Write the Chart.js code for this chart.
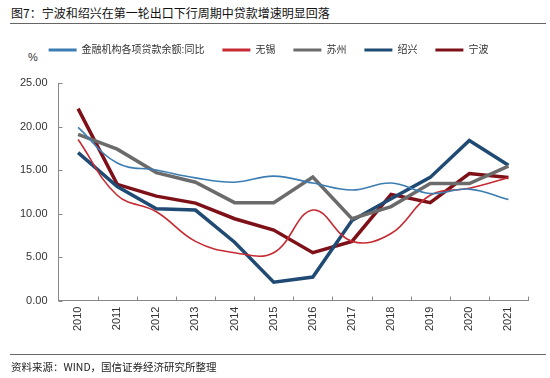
<!DOCTYPE html>
<html><head><meta charset="utf-8">
<script src="https://cdn.jsdelivr.net/npm/chart.js@4/dist/chart.umd.min.js"></script>
<style>
html,body{margin:0;padding:0;background:#fff;}
#wrap{position:relative;width:550px;height:378px;overflow:hidden;font-family:"Noto Sans CJK SC","Liberation Sans",sans-serif;}
#title{position:absolute;left:11px;top:4px;font-size:12px;color:#111;white-space:nowrap;}
.rule{position:absolute;left:10px;width:536px;height:1px;background:#666;}
#src{position:absolute;left:11px;top:359px;font-size:10.5px;color:#222;white-space:nowrap;}
#pct{position:absolute;left:28px;top:51px;font-size:11px;color:#333;font-family:"Liberation Sans",sans-serif;}
#cv{position:absolute;left:0;top:0;}
</style></head>
<body>
<div id="wrap">
<div id="title">图7：宁波和绍兴在第一轮出口下行周期中贷款增速明显回落</div>
<div class="rule" style="top:23px"></div>
<div id="pct">%</div>
<canvas id="cv" width="550" height="378"></canvas>
<div class="rule" style="top:354px"></div>
<div id="src">资料来源：WIND，国信证券经济研究所整理</div>
</div>
<script>
const years = ["2010","2011","2012","2013","2014","2015","2016","2017","2018","2019","2020","2021"];
const seriesNames = ["金融机构各项贷款余额:同比","无锡","苏州","绍兴","宁波"];
const national = [19.9,15.8,15.0,14.1,13.6,14.3,13.5,12.7,13.5,12.3,12.8,11.6];
const wuxi     = [18.5,12.1,10.2,6.8,5.5,5.5,10.4,6.8,7.7,12.1,12.9,14.1];
const suzhou   = [19.1,17.4,14.7,13.6,11.25,11.25,14.2,9.4,10.8,13.45,13.45,15.45];
const shaoxing = [17.0,13.1,10.55,10.4,6.7,2.1,2.7,9.2,11.7,14.15,18.4,15.55];
const ningbo   = [22.05,13.35,12.0,11.2,9.4,8.1,5.5,6.8,12.2,11.25,14.6,14.15];
const yTicks = [0,5,10,15,20,25];

const FONT = "'Liberation Sans','Noto Sans CJK SC',sans-serif";
const inTicks = {
  id:'inTicks',
  beforeLayout(chart){
    const lg = chart.legend;
    if(lg && !lg._patched){ const f = lg.fit; lg.fit = function(){ f.call(this); this.height += 18; }; lg._patched = true; }
  },
  afterDraw(chart){
    const ctx = chart.ctx, x = chart.scales.x, y = chart.scales.y;
    ctx.save(); ctx.strokeStyle = '#888'; ctx.lineWidth = 1;
    const n = years.length, w = (x.right - x.left)/n;
    for(let i=1;i<=n;i++){ const px = Math.round(x.left + i*w)+0.5;
      ctx.beginPath(); ctx.moveTo(px, y.bottom); ctx.lineTo(px, y.bottom-4); ctx.stroke(); }
    yTicks.forEach(v=>{ const py = Math.round(y.getPixelForValue(v))+0.5;
      ctx.beginPath(); ctx.moveTo(x.left, py); ctx.lineTo(x.left+4, py); ctx.stroke(); });
    ctx.restore();
  }
};
const mk = (label, data, color, width, tension) => ({label, data, borderColor:color, backgroundColor:color,
  borderWidth:width, tension, pointRadius:0, fill:false, cubicInterpolationMode:'default'});
new Chart(document.getElementById('cv'), {
  type:'line',
  data:{ labels: years, datasets:[
    mk(seriesNames[0], national, '#3B7DB2', 1.6, 0.4),
    mk(seriesNames[1], wuxi, '#C62B33', 1.6, 0.4),
    mk(seriesNames[2], suzhou, '#6B6B6B', 3.5, 0),
    mk(seriesNames[3], shaoxing, '#1F4A73', 3.5, 0),
    mk(seriesNames[4], ningbo, '#7E1018', 3.5, 0)
  ]},
  options:{
    responsive:false, animation:false,
    layout:{ padding:{ left:9, right:22, top:27, bottom:41 } },
    plugins:{
      legend:{ display:true, position:'top',
        labels:{ font:{family:FONT, size:10}, color:'#333', boxWidth:28, boxHeight:3, padding:18,
          generateLabels(chart){ return chart.data.datasets.map((d,i)=>({text:d.label, fillStyle:d.borderColor,
            strokeStyle:d.borderColor, lineWidth:0, datasetIndex:i, fontColor:'#333'})); } } },
      tooltip:{enabled:false}
    },
    scales:{
      x:{ offset:true, grid:{display:false, drawTicks:false}, border:{color:'#888', width:1},
        ticks:{ font:{family:FONT, size:11}, color:'#333', maxRotation:90, minRotation:90, padding:6 } },
      y:{ min:0, max:25, grid:{display:false, drawTicks:false}, border:{color:'#888', width:1},
        afterBuildTicks(s){ s.ticks = yTicks.map(v=>({value:v})); },
        ticks:{ font:{family:FONT, size:11}, color:'#333', padding:11, callback:v=>v.toFixed(2) } }
    }
  },
  plugins:[inTicks]
});
</script>
</body></html>
